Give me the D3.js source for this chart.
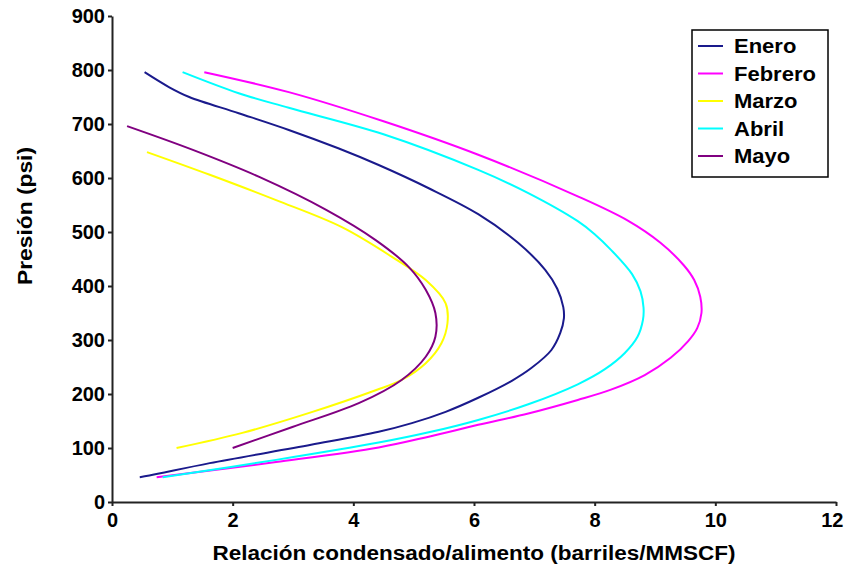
<!DOCTYPE html>
<html><head><meta charset="utf-8">
<script src="https://cdn.jsdelivr.net/npm/d3@7"></script>
<style>body{margin:0;background:#fff}svg{display:block}text{font-family:Arial,"Liberation Sans",sans-serif;font-weight:bold;fill:#000}</style>
</head><body>
<svg id="c" width="848" height="565"></svg>
<script>
// Series data: [ratio (barriles/MMSCF), pressure (psi)] ordered along each curve
const seriesNames = ["Enero","Febrero","Marzo","Abril","Mayo"];
const seriesColors = ["#1a1a8c","#ff00ff","#ffff00","#00ffff","#800080"];
const enero = [[0.46,46],[0.62,49],[1.62,72],[3.3,106],[4.42,130],[4.97,146],[5.53,167],[6.07,193],[6.62,224],[6.95,248],[7.28,281],[7.43,313],[7.49,340],[7.48,361],[7.38,395],[7.18,430],[6.73,480],[6.07,533],[5.25,581],[4.42,624],[3.75,655],[2.93,689],[2.1,720],[1.28,750],[0.95,768],[0.54,796]];
const febrero = [[0.74,46],[2.72,74],[4.42,101],[5.25,121],[6.07,143],[6.9,164],[7.72,189],[8.27,208],[8.83,235],[9.26,267],[9.55,298],[9.7,322],[9.77,350],[9.75,380],[9.65,411],[9.48,438],[9.09,480],[8.55,521],[7.72,566],[6.07,643],[4.5,705],[2.93,759],[1.53,796]];
const marzo = [[1.07,100],[2.16,128],[3.27,165],[4.37,207],[4.8,226],[5.2,257],[5.46,294],[5.56,331],[5.53,368],[5.2,411],[4.64,454],[3.81,509],[2.72,559],[1.62,606],[0.58,648]];
const abril = [[0.84,46],[2.72,78],[4.42,110],[5.25,129],[6.07,152],[6.9,181],[7.72,218],[8.17,246],[8.5,276],[8.71,306],[8.8,337],[8.81,360],[8.76,390],[8.62,422],[8.27,467],[8.0,496],[7.72,520],[6.9,572],[6.07,615],[4.5,681],[2.93,730],[2.1,757],[1.17,796]];
const mayo = [[2.0,100],[2.99,139],[4.09,183],[4.8,226],[5.2,269],[5.36,306],[5.36,350],[5.2,393],[4.92,435],[4.37,485],[3.55,541],[2.44,602],[1.34,652],[0.25,696]];
const seriesData = [enero,febrero,marzo,abril,mayo];
const xTicks = [0,2,4,6,8,10,12];
const yTicks = [0,100,200,300,400,500,600,700,800,900];
const xTitle = "Relación condensado/alimento (barriles/MMSCF)";
const yTitle = "Presión (psi)";

const svg = d3.select("#c");
const x = d3.scaleLinear().domain([0,12]).range([112,836]);
const y = d3.scaleLinear().domain([0,900]).range([502,16]);

// axes
const gx = svg.append("g").attr("transform","translate(0,502)")
  .call(d3.axisBottom(x).tickValues(xTicks).tickSize(4).tickSizeOuter(0).tickFormat(d3.format("d")));
const gy = svg.append("g").attr("transform","translate(112,0)")
  .call(d3.axisLeft(y).tickValues(yTicks).tickSize(4).tickSizeOuter(0).tickFormat(d3.format("d")));
[gx,gy].forEach(g=>{
  g.select(".domain").attr("stroke","#222").attr("stroke-width",2);
  g.selectAll(".tick line").attr("stroke","#222").attr("stroke-width",2);
  g.selectAll(".tick text").attr("font-size",20).attr("font-family","Arial, 'Liberation Sans', sans-serif").attr("font-weight","bold").attr("fill","#000");
});
gx.selectAll(".tick text").attr("y",25).attr("dy",0);
gx.selectAll(".tick text").filter(d=>d===12).attr("text-anchor","end").attr("dx",7);
gy.selectAll(".tick text").attr("x",-7);

// lines
const line = d3.line().x(d=>x(d[0])).y(d=>y(d[1])).curve(d3.curveCatmullRom.alpha(0.5));
svg.append("g").selectAll("path").data(seriesData).join("path")
  .attr("d",line).attr("fill","none")
  .attr("stroke",(d,i)=>seriesColors[i]).attr("stroke-width",2);

// titles
svg.append("text").attr("x",474).attr("y",560).attr("text-anchor","middle")
  .attr("font-size",20).attr("textLength",523).attr("lengthAdjust","spacingAndGlyphs").text(xTitle);
svg.append("text").attr("transform","translate(32,216) rotate(-90)").attr("text-anchor","middle")
  .attr("font-size",20).attr("textLength",138).attr("lengthAdjust","spacingAndGlyphs").text(yTitle);

// legend
const lg = svg.append("g");
lg.append("rect").attr("x",692).attr("y",30).attr("width",136).attr("height",147)
  .attr("fill","#fff").attr("stroke","#000").attr("stroke-width",1.5);
const rowY = d3.scalePoint().domain(seriesNames).range([46,156]);
seriesNames.forEach((n,i)=>{
  lg.append("line").attr("x1",698).attr("x2",723).attr("y1",rowY(n)).attr("y2",rowY(n))
    .attr("stroke",seriesColors[i]).attr("stroke-width",2);
  const t = lg.append("text").attr("x",734).attr("y",rowY(n)+7).attr("font-size",20).text(n);
  const w = t.node().getComputedTextLength();
  t.attr("textLength",w*1.1).attr("lengthAdjust","spacingAndGlyphs");
});
</script>
</body></html>
